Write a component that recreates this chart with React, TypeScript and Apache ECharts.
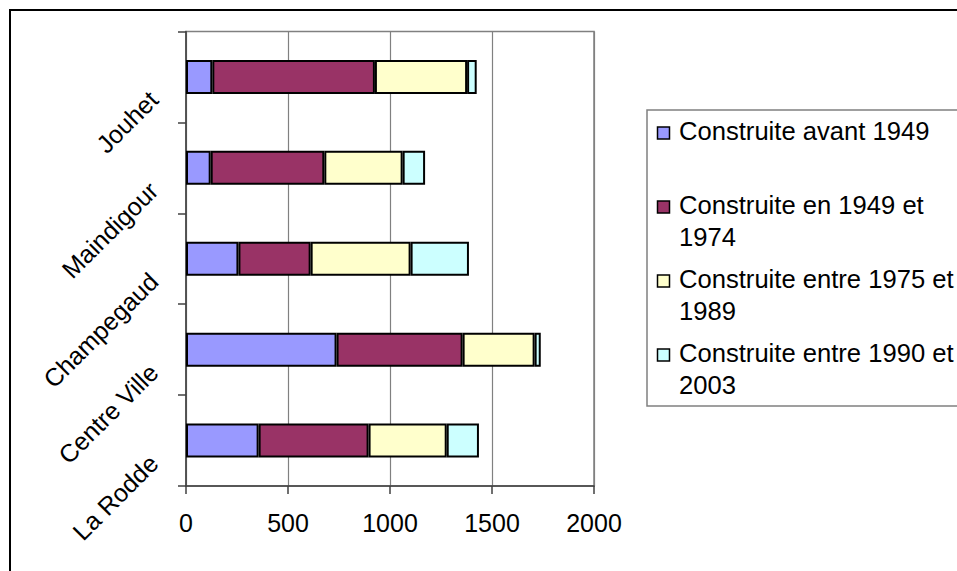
import React, { useEffect, useRef } from "react";
import * as echarts from "echarts";

const categories = ["La Rodde", "Centre Ville", "Champegaud", "Maindigour", "Jouhet"];
const avant1949 = [356, 738, 257, 121, 129];
const de1949a1974 = [539, 618, 354, 557, 797];
const de1975a1989 = [383, 353, 490, 384, 452];
const de1990a2003 = [158, 30, 286, 110, 47];

const seriesNames = [
  "Construite avant 1949",
  "Construite en 1949 et 1974",
  "Construite entre 1975 et 1989",
  "Construite entre 1990 et 2003",
];
const legendLines = [
  ["Construite avant 1949"],
  ["Construite en 1949 et", "1974"],
  ["Construite entre 1975 et", "1989"],
  ["Construite entre 1990 et", "2003"],
];
const colors = ["#9999FF", "#993366", "#FFFFCC", "#CCFFFF"];
const xTicks = { min: 0, max: 2000, interval: 500 };

const FONT = '"Liberation Sans", Arial, sans-serif';

export default function App() {
  const ref = useRef<HTMLDivElement>(null);
  useEffect(() => {
    if (!ref.current) return;
    const chart = echarts.init(ref.current, null, { renderer: "svg" });
    const values = [avant1949, de1949a1974, de1975a1989, de1990a2003];

    const legendGraphics: any[] = [];
    const lx = 647;
    const ly = 110;
    legendGraphics.push({
      type: "rect",
      shape: { x: lx, y: ly, width: 330, height: 296 },
      style: { fill: "#fff", stroke: "#808080", lineWidth: 1.5 },
      z: 10,
    });
    legendLines.forEach((lines, i) => {
      const cy = 131 + i * 74;
      legendGraphics.push({
        type: "rect",
        shape: { x: 657.5, y: cy - 4, width: 12, height: 12 },
        style: { fill: colors[i], stroke: "#000", lineWidth: 1.5 },
        z: 11,
      });
      lines.forEach((ln, j) => {
        legendGraphics.push({
          type: "text",
          x: 679,
          y: cy + j * 32,
          style: {
            text: ln,
            font: `25.6px ${FONT}`,
            fill: "#000",
            verticalAlign: "middle",
            align: "left",
          },
          z: 11,
        });
      });
    });

    chart.setOption({
      animation: false,
      backgroundColor: "#fff",
      textStyle: { fontFamily: FONT },
      grid: {
        left: 186,
        top: 31.5,
        width: 408,
        height: 454.5,
        show: true,
        borderColor: "#808080",
        borderWidth: 1.5,
        backgroundColor: "transparent",
      },
      xAxis: {
        type: "value",
        min: xTicks.min,
        max: xTicks.max,
        interval: xTicks.interval,
        axisLine: { show: true, lineStyle: { color: "#404040", width: 1.5 } },
        axisTick: { show: true, length: 8, lineStyle: { color: "#404040", width: 1.5 } },
        axisLabel: {
          fontSize: 25,
          color: "#000",
          fontFamily: FONT,
          margin: 24,
          formatter: (v: number) => String(v),
        },
        splitLine: { show: true, lineStyle: { color: "#808080", width: 1.2 } },
      },
      yAxis: {
        type: "category",
        data: categories,
        axisLine: { show: true, lineStyle: { color: "#404040", width: 1.5 } },
        axisTick: { show: true, length: 8, alignWithLabel: false, lineStyle: { color: "#404040", width: 1.5 } },
        axisLabel: {
          fontSize: 25,
          color: "#000",
          fontFamily: FONT,
          rotate: 45,
          margin: 14,
          padding: [10, 26, 0, 0],
        },
        splitLine: { show: false },
      },
      series: values.map((v, i) => ({
        name: seriesNames[i],
        type: "bar",
        stack: "total",
        data: v,
        barWidth: 34,
        itemStyle: { color: colors[i], borderColor: "#000", borderWidth: 2 },
      })),
      graphic: [
        {
          type: "rect",
          shape: { x: 10, y: 10, width: 1000, height: 600 },
          style: { fill: "none", stroke: "#000", lineWidth: 2 },
          z: 20,
        },
        ...legendGraphics,
      ],
    });
    return () => chart.dispose();
  }, []);
  return (
    <div
      ref={ref}
      style={{ position: "fixed", left: 0, top: 0, width: 957, height: 571 }}
    />
  );
}
